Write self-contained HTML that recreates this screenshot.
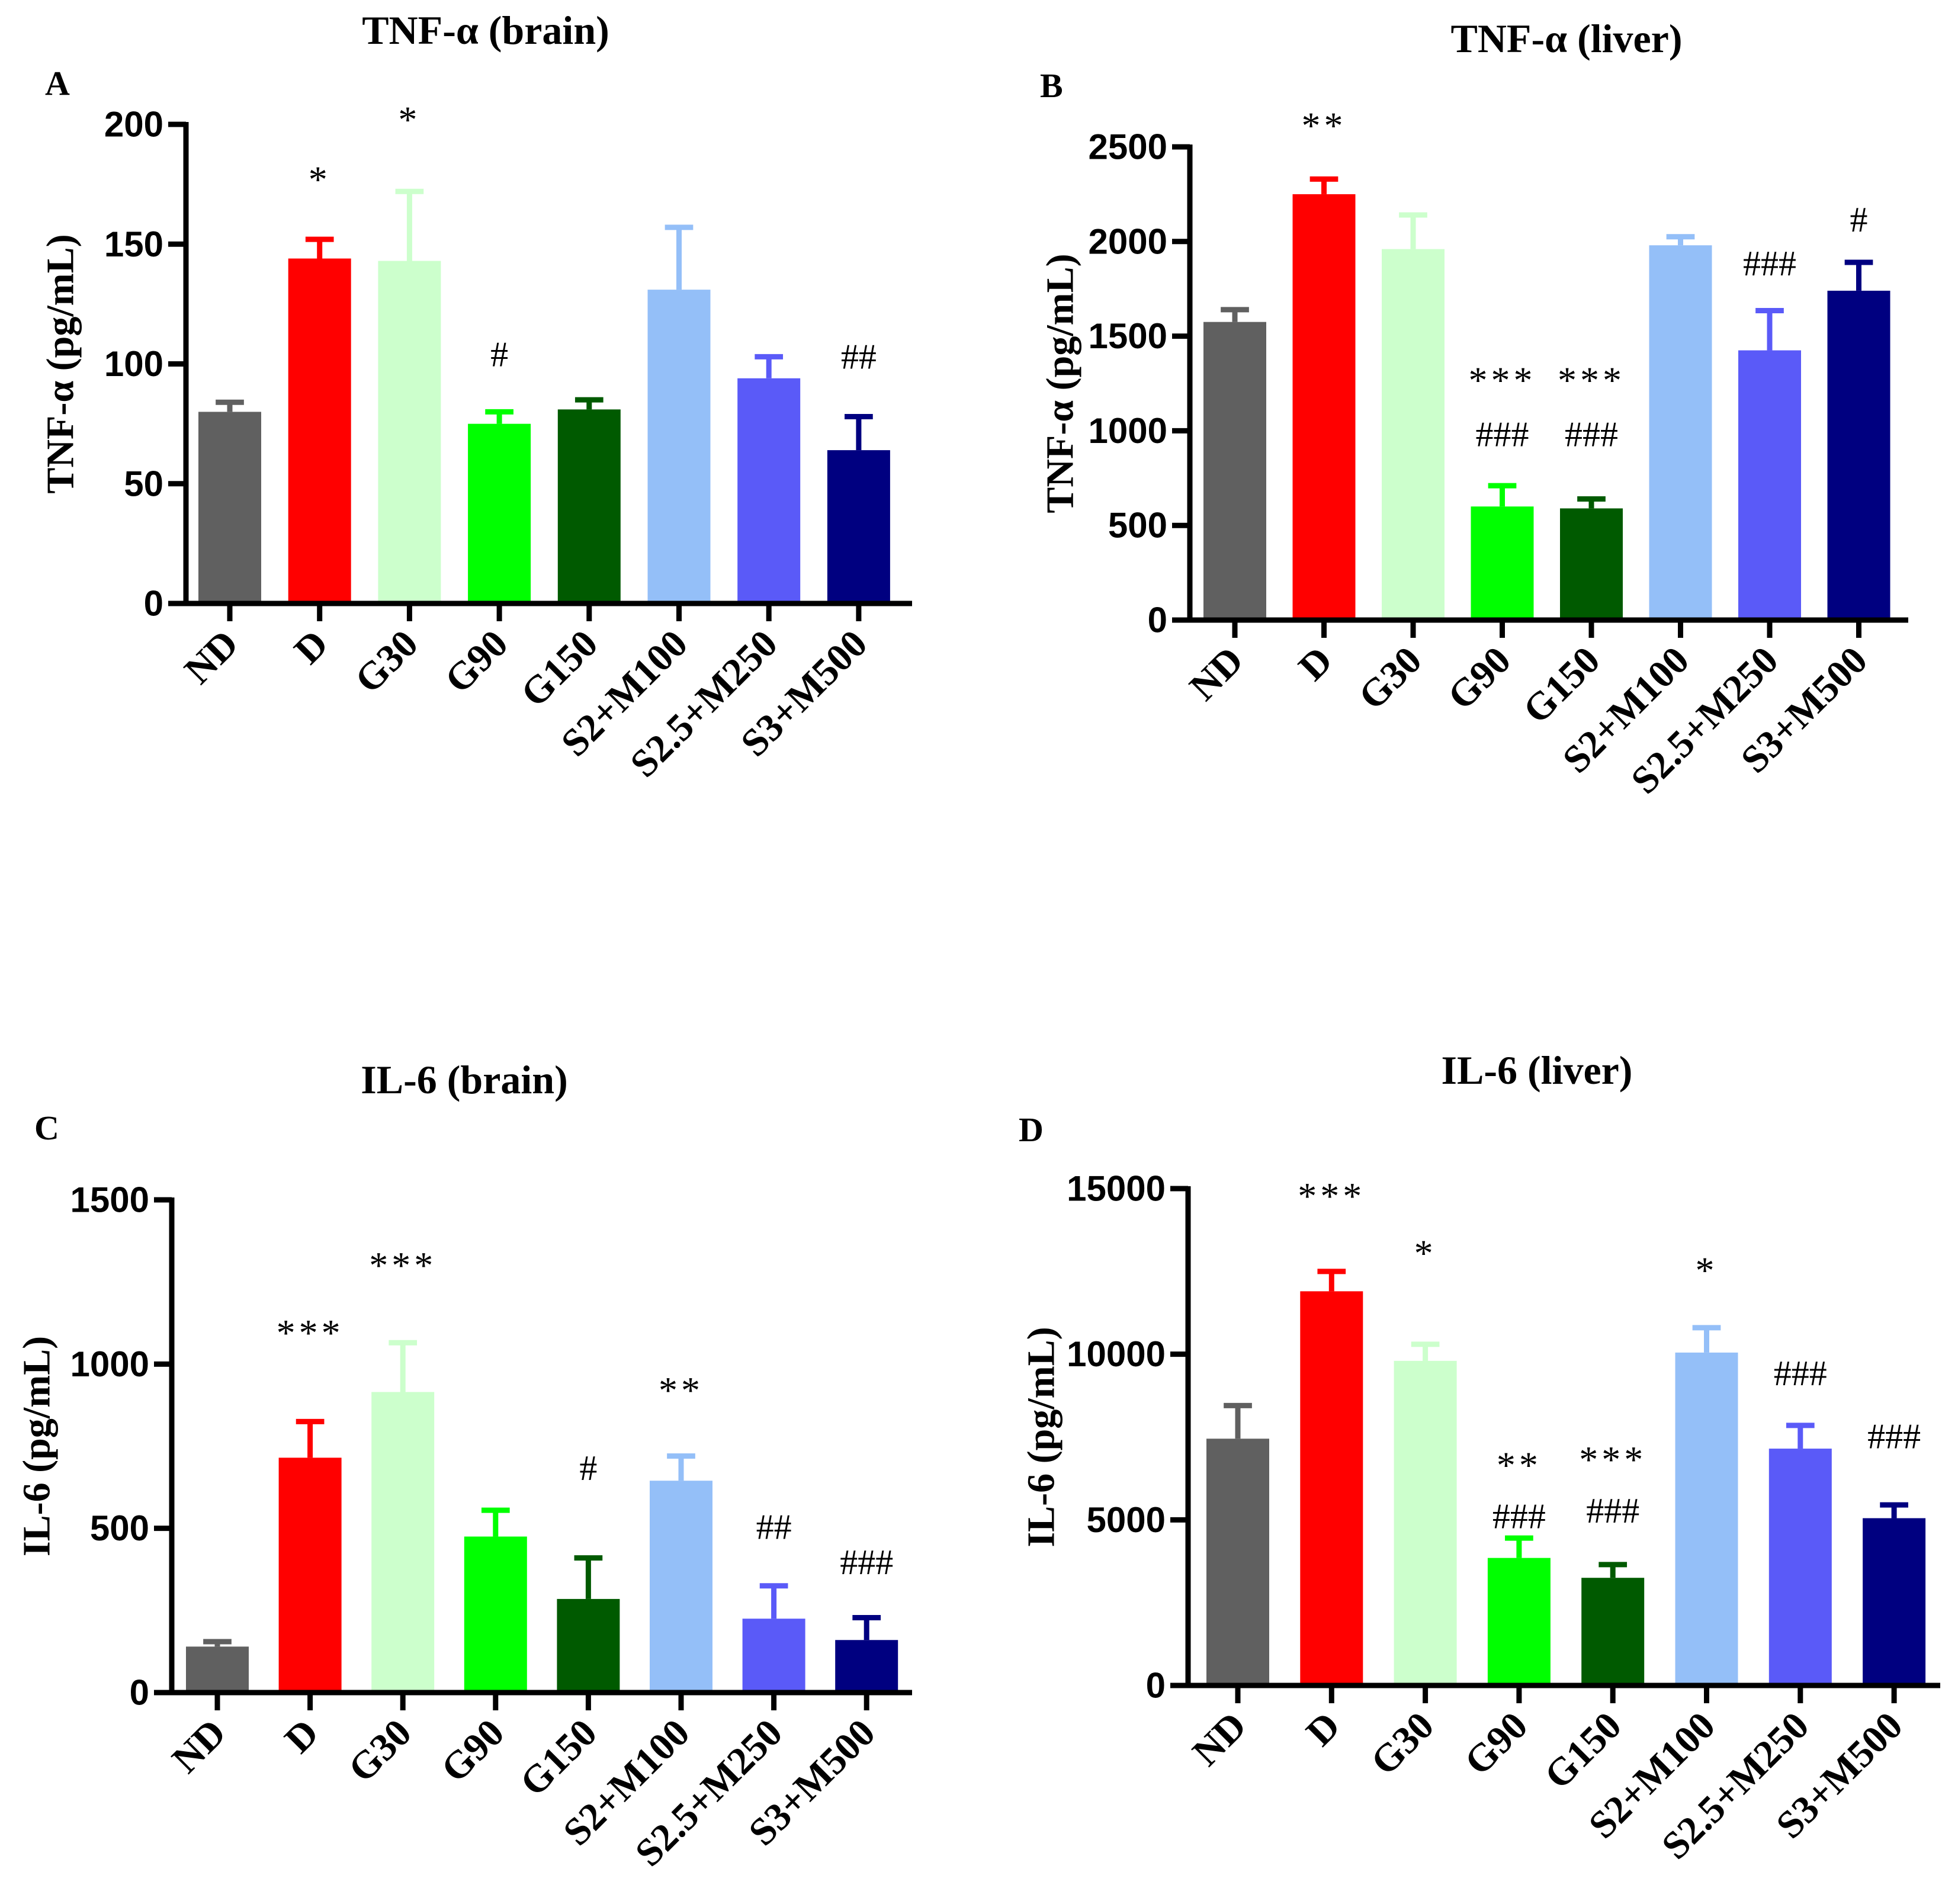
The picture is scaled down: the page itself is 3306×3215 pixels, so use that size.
<!DOCTYPE html>
<html><head><meta charset="utf-8"><style>
html,body{margin:0;padding:0;background:#fff}
svg{display:block}
</style></head><body>
<svg id="fig" width="3306" height="3215" viewBox="0 0 3306 3215" xmlns="http://www.w3.org/2000/svg"></svg>
<script>
const categories = ["ND","D","G30","G90","G150","S2+M100","S2.5+M250","S3+M500"];
const colors = ["#606060","#ff0000","#ccffcc","#00ff00","#005a00","#94bff8","#5a5af8","#000080"];

const valuesA = [80,144,143,75,81,131,94,64];
const errTopA = [84,152,172,80,85,157,103,78];
const ticksA = [0,50,100,150,200];
const annotA = [["",""],["*",""],["*",""],["#",""],["",""],["",""],["",""],["##",""]];
const annotYA = [[0,0],[177,0],[202,0],[104,0],[0,0],[0,0],[0,0],[103,0]];

const valuesB = [1575,2250,1960,600,590,1980,1425,1740];
const errTopB = [1640,2330,2140,710,640,2025,1635,1890];
const ticksB = [0,500,1000,1500,2000,2500];
const annotB = [["",""],["**",""],["",""],["***","###"],["***","###"],["",""],["###",""],["#",""]];
const annotYB = [[0,0],[2613,0],[0,0],[1267,981],[1267,981],[0,0],[1883,0],[2115,0]];

const valuesC = [140,715,915,475,285,645,225,160];
const errTopC = [155,825,1065,555,410,720,325,228];
const ticksC = [0,500,1000,1500];
const annotC = [["",""],["***",""],["***",""],["",""],["#",""],["**",""],["##",""],["###",""]];
const annotYC = [[0,0],[1095,0],[1301,0],[0,0],[683,0],[920,0],[504,0],[397,0]];

const valuesD = [7450,11900,9800,3850,3250,10050,7150,5050];
const errTopD = [8450,12500,10300,4450,3650,10800,7850,5450];
const ticksD = [0,5000,10000,15000];
const annotD = [["",""],["***",""],["*",""],["**","###"],["***","###"],["*",""],["###",""],["###",""]];
const annotYD = [[0,0],[14775,0],[13050,0],[6650,5100],[6825,5270],[12530,0],[9420,0],[7520,0]];

const NS="http://www.w3.org/2000/svg";
const svg=document.getElementById('fig');
function mk(tag,attrs,parent){const e=document.createElementNS(NS,tag);for(const k in attrs)e.setAttribute(k,attrs[k]);(parent||svg).appendChild(e);return e;}

function panel(cfg){
  const g=mk('g',{});
  
  
  const ymax=cfg.ticks[cfg.ticks.length-1];
  const y=v=>cfg.y0-(v/ymax)*(cfg.y0-cfg.yTop);
  const x=i=>cfg.x0c+i*cfg.step;
  const bw=cfg.bw, cap=bw*0.45, lw=9;
  const t=mk('text',{x:cfg.titleX,y:cfg.titleY,'text-anchor':'middle','font-family':'"Liberation Serif",serif','font-weight':'bold','font-size':68},g);
  t.textContent=cfg.title;
  
  
  const L=mk('text',{x:cfg.letterX,y:cfg.letterY,'font-family':'"Liberation Serif",serif','font-weight':'bold','font-size':58},g);
  L.textContent=cfg.letter;
  
  
  cfg.values.forEach((v,i)=>{
    const cx=x(i);
    const eb=mk('path',{d:`M${cx} ${y(v)} V${y(cfg.err[i])} M${cx-cap/2} ${y(cfg.err[i])} H${cx+cap/2}`,stroke:colors[i],'stroke-width':lw,fill:'none'},g);
    
    
    const r=mk('rect',{x:cx-bw/2,y:y(v),width:bw,height:cfg.y0-y(v),fill:colors[i]},g);
    
    
    cfg.annot[i].forEach((s,k)=>{
      if(!s)return;
      const a=mk('text',{x:cx,y:y(cfg.annotY[i][k]),'text-anchor':'middle','dominant-baseline':'central','font-family':'"Liberation Serif",serif','font-size':s[0]=='*'?64:60,'letter-spacing':s[0]=='*'?6:0},g);
      a.textContent=s;
      
      
    });
    const tk=mk('line',{x1:cx,x2:cx,y1:cfg.y0,y2:cfg.y0+30,stroke:'#000','stroke-width':lw},g);
    
    
    const tx=cx+18, ty=cfg.y0+72;
    const lb=mk('text',{x:tx,y:ty,'text-anchor':'end','font-family':'"Liberation Serif",serif','font-weight':'bold','font-size':66,transform:`rotate(-45 ${tx} ${ty})`},g);
    lb.textContent=categories[i];
    
    
  });
  const ax=mk('path',{d:`M${cfg.xAxis} ${cfg.yTop-4} V${cfg.y0} H${cfg.xEnd}`,stroke:'#000','stroke-width':lw,fill:'none'},g);
  
  
  cfg.ticks.forEach(v=>{
    const tk=mk('line',{x1:cfg.xAxis-30,x2:cfg.xAxis,y1:y(v),y2:y(v),stroke:'#000','stroke-width':lw},g);
    
    
    const tl=mk('text',{x:cfg.xAxis-38,y:y(v),'text-anchor':'end','dominant-baseline':'central','font-family':'"Liberation Sans",sans-serif','font-weight':'bold','font-size':60},g);
    tl.textContent=v;
    
    
  });
  const ym=(cfg.y0+cfg.yTop)/2;
  const yl=mk('text',{x:cfg.ylabX,y:ym,'text-anchor':'middle','dominant-baseline':'central','font-family':'"Liberation Serif",serif','font-weight':'bold','font-size':66,transform:`rotate(-90 ${cfg.ylabX} ${ym})`},g);
  yl.textContent=cfg.ylab;
  
  
}

panel({letter:'A',title:'TNF-α (brain)',titleX:820,titleY:74,letterX:76,letterY:160,
  xAxis:314,y0:1019,yTop:210,xEnd:1540,x0c:388,step:151.7,bw:106,
  ticks:ticksA,values:valuesA,err:errTopA,annot:annotA,annotY:annotYA,ylab:'TNF-α (pg/mL)',ylabX:102});
panel({letter:'B',title:'TNF-α (liver)',titleX:2645,titleY:88,letterX:1756,letterY:164,
  xAxis:2009,y0:1047,yTop:248,xEnd:3222,x0c:2085,step:150.5,bw:106,
  ticks:ticksB,values:valuesB,err:errTopB,annot:annotB,annotY:annotYB,ylab:'TNF-α (pg/mL)',ylabX:1790});
panel({letter:'C',title:'IL-6 (brain)',titleX:784,titleY:1846,letterX:58,letterY:1924,
  xAxis:290,y0:2858,yTop:2026,xEnd:1540,x0c:367,step:156.6,bw:106,
  ticks:ticksC,values:valuesC,err:errTopC,annot:annotC,annotY:annotYC,ylab:'IL-6 (pg/mL)',ylabX:62});
panel({letter:'D',title:'IL-6 (liver)',titleX:2595,titleY:1830,letterX:1720,letterY:1927,
  xAxis:2006,y0:2846,yTop:2007,xEnd:3276,x0c:2090,step:158.3,bw:106,
  ticks:ticksD,values:valuesD,err:errTopD,annot:annotD,annotY:annotYD,ylab:'IL-6 (pg/mL)',ylabX:1758});
</script>
</body></html>
